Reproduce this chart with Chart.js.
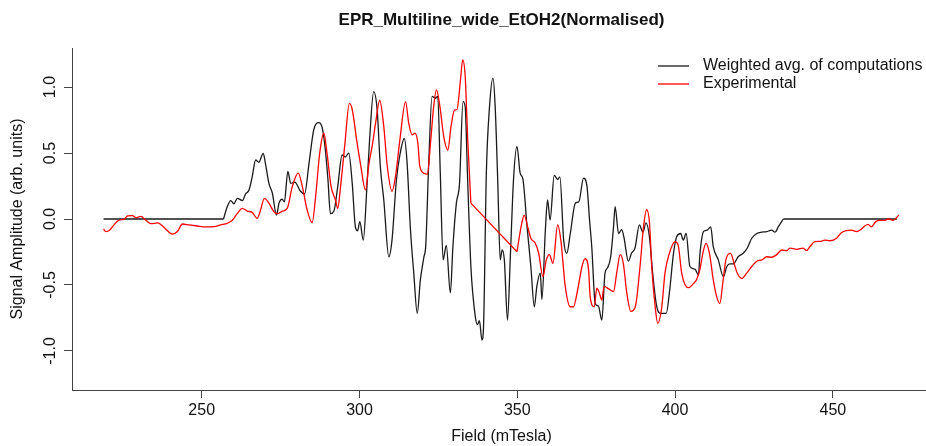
<!DOCTYPE html>
<html><head><meta charset="utf-8">
<script src="https://cdn.jsdelivr.net/npm/chart.js@4/dist/chart.umd.min.js"></script>
<style>html,body{margin:0;padding:0;background:#fff;overflow:hidden;width:926px;height:446px}
#wrap{position:relative;width:940px;height:446px}</style>
</head><body><div id="wrap"><canvas id="c" width="940" height="446"></canvas></div>
<script>
const chartTitle = "EPR_Multiline_wide_EtOH2(Normalised)";
const xAxisTitle = "Field (mTesla)";
const yAxisTitle = "Signal Amplitude (arb. units)";
const seriesNames = ["Weighted avg. of computations", "Experimental"];
const xTicks = [250, 300, 350, 400, 450];
const yTicks = [-1.0, -0.5, 0.0, 0.5, 1.0];

const calcField = [218.9,256.9,258.1,259.2,260.2,261.3,262.9,263.9,265.0,266.0,267.1,268.1,269.5,270.2,271.3,272.4,273.7,274.5,275.5,276.2,277.3,278.2,279.5,281.3,282.6,284.0,285.5,287.1,288.2,289.2,290.0,290.8,291.9,293.1,294.5,295.5,296.6,297.7,298.7,299.4,300.1,301.2,302.3,303.2,304.5,305.6,306.6,307.7,309.3,310.3,311.7,312.8,314.2,315.1,316.1,317.2,318.3,319.3,320.4,321.0,321.9,323.0,324.0,324.8,325.6,326.5,327.5,328.8,329.6,330.7,331.7,332.8,333.5,334.2,335.3,336.7,337.4,338.0,338.8,339.3,340.2,341.2,342.3,343.0,343.8,344.6,345.2,345.9,346.9,347.8,348.8,349.9,350.9,351.8,353.1,354.3,355.4,356.2,357.3,357.8,358.9,359.6,360.4,361.7,362.8,363.5,364.7,365.7,366.8,368.4,369.5,371.0,372.1,372.9,373.6,374.7,375.7,376.8,377.8,378.6,379.6,380.5,381.0,382.1,383.1,383.8,385.2,386.2,387.3,388.7,389.8,390.8,391.9,392.9,394.2,395.5,397.2,398.2,399.5,400.5,401.8,402.6,403.5,404.7,406.3,407.4,407.9,409.0,410.1,411.3,412.1,413.7,415.3,416.4,417.4,418.5,420.0,421.6,422.9,424.3,425.9,427.5,429.0,430.6,431.7,432.7,434.3,470.3];
const calcSignal = [0,0,0.093,0.14,0.115,0.157,0.14,0.19,0.22,0.32,0.447,0.43,0.498,0.42,0.27,0.195,0.03,0.12,0.15,0.13,0.36,0.27,0.28,0.21,0.19,0.42,0.675,0.73,0.69,0.52,0.30,0.04,0.06,0.245,0.485,0.47,0.5,0.27,-0.06,-0.09,-0.02,-0.16,0.22,0.6,0.965,0.826,0.40,0.144,-0.286,-0.16,0.296,0.485,0.61,0.42,-0.06,-0.41,-0.715,-0.46,-0.29,-0.2,0.40,0.93,0.915,0.93,0.35,-0.31,-0.2,-0.56,-0.21,0.12,0.27,0.89,0.85,0.35,-0.36,-0.74,-0.80,-0.77,-0.917,-0.82,0.35,0.85,1.067,0.85,0.296,-0.31,-0.235,-0.31,-0.766,-0.286,0.296,0.55,0.35,0.30,-0.06,-0.36,-0.665,-0.51,-0.41,-0.61,-0.083,0.144,-0.008,0.33,0.30,0.32,-0.16,-0.26,-0.11,0.12,0.13,0.31,0.245,-0.008,-0.21,-0.64,-0.66,-0.766,-0.41,-0.37,-0.286,-0.06,0.093,-0.11,-0.08,-0.14,-0.32,-0.26,-0.22,-0.045,-0.1,-0.03,-0.14,-0.41,-0.665,-0.715,-0.715,-0.56,-0.26,-0.134,-0.11,-0.16,-0.11,-0.36,-0.38,-0.425,-0.26,-0.096,-0.086,-0.06,-0.21,-0.31,-0.437,-0.36,-0.34,-0.34,-0.286,-0.26,-0.22,-0.146,-0.11,-0.1,-0.096,-0.085,-0.1,-0.06,0,0];

const expField = [218.9,219.6,220.8,222.0,223.8,225.4,226.5,228.1,229.1,230.7,232.3,233.9,236.0,237.6,239.1,240.7,242.3,243.9,246.0,248.6,251.2,253.9,256.0,258.1,259.7,261.3,262.9,264.4,266.0,267.6,268.3,269.9,271.3,272.9,274.0,275.6,277.1,278.7,280.6,281.9,283.4,285.0,286.1,287.4,288.7,289.7,291.0,292.4,293.1,294.0,295.3,296.8,297.7,299.1,300.3,301.9,303.0,304.0,305.1,306.4,307.7,308.8,310.3,311.4,312.8,314.6,315.6,316.7,317.6,318.5,319.1,320.4,321.5,322.5,323.5,324.4,325.5,326.7,328.0,329.0,330.1,330.9,332.0,332.7,333.5,334.3,335.3,349.9,351.2,352.2,353.3,354.3,355.7,356.8,358.1,359.2,360.2,361.3,362.8,363.8,365.2,366.8,367.8,369.1,370.5,371.5,372.6,373.1,374.4,375.2,376.0,376.8,377.5,379.0,380.5,381.5,382.6,383.6,384.7,386.0,387.4,388.9,390.0,391.0,391.9,392.6,393.7,394.5,395.8,396.8,398.2,400.0,401.0,402.1,403.2,404.3,405.8,406.8,407.9,408.8,409.8,410.9,412.1,413.2,414.2,415.1,416.1,417.6,418.7,419.7,421.1,422.7,424.3,425.9,427.5,429.0,430.6,432.2,433.8,435.4,436.4,438.5,440.6,441.7,442.7,444.3,445.9,447.5,449.1,451.2,452.7,454.3,455.9,457.5,459.1,460.1,461.2,462.2,463.6,464.9,466.5,467.6,469.1,470.2,470.9];
const expSignal = [-0.076,-0.095,-0.085,-0.05,-0.008,-0.002,0.023,0.025,0.01,0.02,-0.01,-0.035,-0.03,-0.053,-0.088,-0.114,-0.095,-0.038,-0.045,-0.053,-0.06,-0.058,-0.045,-0.033,-0.01,0.043,0.08,0.06,0.05,0.005,0.04,0.157,0.12,0.055,0.04,0.06,0.08,0.245,0.347,0.245,0.07,-0.028,0.17,0.5,0.65,0.5,0.245,0.144,0.08,0.245,0.55,0.877,0.83,0.6,0.42,0.22,0.42,0.55,0.726,0.90,0.70,0.40,0.21,0.32,0.6,0.89,0.726,0.637,0.65,0.574,0.40,0.347,0.34,0.574,0.85,0.978,0.85,0.624,0.523,0.70,0.826,0.83,1.054,1.205,1.08,0.6,0.12,-0.248,-0.06,0.03,-0.06,-0.146,-0.184,-0.26,-0.437,-0.31,-0.27,-0.336,-0.045,-0.16,-0.51,-0.665,-0.665,-0.54,-0.36,-0.30,-0.387,-0.59,-0.665,-0.525,-0.56,-0.614,-0.51,-0.53,-0.55,-0.41,-0.27,-0.336,-0.56,-0.70,-0.665,-0.36,-0.06,0.07,-0.03,-0.36,-0.665,-0.79,-0.665,-0.41,-0.26,-0.172,-0.2,-0.41,-0.50,-0.52,-0.49,-0.46,-0.38,-0.26,-0.184,-0.26,-0.46,-0.59,-0.64,-0.49,-0.31,-0.26,-0.336,-0.41,-0.45,-0.41,-0.36,-0.32,-0.31,-0.286,-0.29,-0.27,-0.235,-0.24,-0.22,-0.23,-0.22,-0.24,-0.21,-0.172,-0.17,-0.16,-0.165,-0.146,-0.104,-0.088,-0.085,-0.096,-0.075,-0.053,-0.04,-0.06,-0.02,-0.01,-0.01,0,-0.01,0.01,0.03];

const FONT = '"Liberation Sans", Arial, Helvetica, sans-serif';
const seriesColors = ['#1a1a1a', '#ff0000'];
const GAP = 5; // a field step wider than this is a gap in the recorded data (drawn as a straight join)

// Split a series at its gaps: smooth pieces + straight joins across the gaps
function splitSeries(xs, ys) {
  const smooth = [], joins = [];
  for (let i = 0; i < xs.length; i++) {
    if (i > 0 && xs[i] - xs[i - 1] > GAP) {
      const mid = (xs[i] + xs[i - 1]) / 2;
      smooth.push({x: mid, y: null});
      if (joins.length) joins.push({x: xs[i - 1] - 0.01, y: null});
      joins.push({x: xs[i - 1], y: ys[i - 1]}, {x: xs[i], y: ys[i]});
    }
    smooth.push({x: xs[i], y: ys[i]});
  }
  return {smooth, joins};
}
const calc = splitSeries(calcField, calcSignal);
const exp = splitSeries(expField, expSignal);

const rText = {
  id: 'rText',
  afterDraw(chart) {
    const ctx = chart.ctx, ca = chart.chartArea, ys = chart.scales.y;
    const cx = (ca.left + ca.right) / 2;
    ctx.save();
    ctx.fillStyle = '#111';
    ctx.textAlign = 'center';
    ctx.textBaseline = 'middle';
    ctx.font = 'bold 17px ' + FONT;
    ctx.fillText(chartTitle, cx, 20);
    ctx.font = '16px ' + FONT;
    ctx.fillText(xAxisTitle, cx, 437);
    yTicks.forEach(v => {
      const py = ys.getPixelForValue(v);
      ctx.save(); ctx.translate(51, py); ctx.rotate(-Math.PI / 2);
      ctx.fillText(v.toFixed(1), 0, 0); ctx.restore();
    });
    ctx.save(); ctx.translate(18, (ca.top + ca.bottom) / 2); ctx.rotate(-Math.PI / 2);
    ctx.fillText(yAxisTitle, 0, 0); ctx.restore();
    const ly = [66, 84];
    ctx.textAlign = 'left';
    seriesNames.forEach((n, i) => {
      ctx.strokeStyle = seriesColors[i]; ctx.lineWidth = 1.3;
      ctx.beginPath(); ctx.moveTo(658, ly[i]); ctx.lineTo(689, ly[i]); ctx.stroke();
      ctx.fillText(n, 703, ly[i]);
    });
    ctx.restore();
  }
};

const lineStyle = (color) => ({borderColor: color, borderWidth: 1.3, pointRadius: 0, fill: false, spanGaps: false});

new Chart(document.getElementById('c'), {
  type: 'line',
  data: {
    datasets: [
      Object.assign({label: seriesNames[1], data: exp.smooth, cubicInterpolationMode: 'monotone'}, lineStyle(seriesColors[1])),
      Object.assign({label: seriesNames[1] + ' join', data: exp.joins, tension: 0}, lineStyle(seriesColors[1])),
      Object.assign({label: seriesNames[0], data: calc.smooth, cubicInterpolationMode: 'monotone'}, lineStyle(seriesColors[0])),
      Object.assign({label: seriesNames[0] + ' join', data: calc.joins, tension: 0}, lineStyle(seriesColors[0]))
    ]
  },
  options: {
    responsive: false,
    animation: false,
    devicePixelRatio: 1,
    layout: {padding: {top: 48, right: 9, left: 0, bottom: 0}},
    plugins: {legend: {display: false}, title: {display: false}, tooltip: {enabled: false}},
    scales: {
      x: {
        type: 'linear', position: 'bottom', min: 208.9, max: 481.1,
        afterBuildTicks: s => { s.ticks = xTicks.map(v => ({value: v})); },
        afterFit: s => { s.height = 56; },
        grid: {drawOnChartArea: false, drawTicks: true, tickLength: 8, color: '#444', lineWidth: 1},
        border: {display: true, color: '#444', width: 1},
        ticks: {font: {family: FONT, size: 16}, color: '#111', padding: 3, maxRotation: 0, autoSkip: false, callback: v => String(v)}
      },
      y: {
        type: 'linear', min: -1.296, max: 1.296,
        afterBuildTicks: s => { s.ticks = yTicks.map(v => ({value: v})); },
        afterFit: s => { s.width = 72; },
        grid: {drawOnChartArea: false, drawTicks: true, tickLength: 8, color: '#444', lineWidth: 1},
        border: {display: true, color: '#444', width: 1},
        ticks: {display: false}
      }
    }
  },
  plugins: [rText]
});
</script>
</body></html>
